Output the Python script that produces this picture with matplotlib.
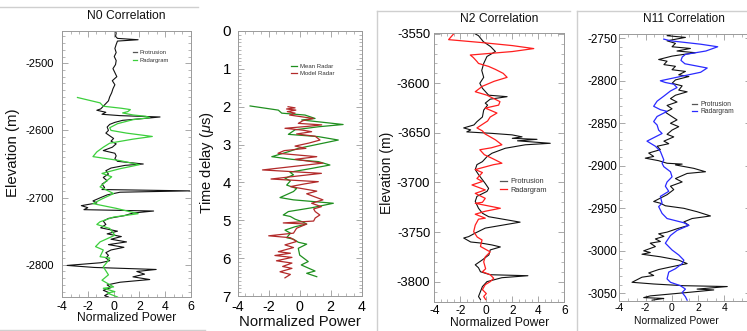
import matplotlib.pyplot as plt
from matplotlib.ticker import MultipleLocator
from matplotlib.lines import Line2D

plt.rcParams['font.family'] = ['Liberation Sans', 'DejaVu Sans']
plt.rcParams['mathtext.fontset'] = 'custom'
plt.rcParams['mathtext.rm'] = 'Liberation Sans'
plt.rcParams['mathtext.it'] = 'Liberation Sans:italic'
plt.rcParams['axes.unicode_minus'] = False

# ---- N0 correlation ----
n0_prot_elev = [-2451, -2455, -2460, -2463, -2465, -2467, -2472, -2478, -2484, -2490,
                -2496, -2502, -2508, -2514, -2520, -2526, -2532, -2538, -2544, -2550,
                -2556, -2560, -2564, -2568, -2570, -2573, -2576, -2578, -2580, -2582,
                -2585, -2588, -2591, -2595, -2600, -2604, -2608, -2612, -2616, -2620,
                -2625, -2630, -2634, -2638, -2642, -2646, -2650, -2652, -2656, -2660,
                -2665, -2670, -2675, -2680, -2685, -2688, -2690, -2692, -2696, -2700,
                -2705, -2708, -2712, -2715, -2718, -2720, -2723, -2727, -2731, -2735,
                -2740, -2745, -2750, -2754, -2758, -2762, -2766, -2770, -2774, -2778,
                -2782, -2786, -2790, -2794, -2797, -2801, -2804, -2807, -2810, -2814,
                -2818, -2822, -2826, -2830, -2834, -2838, -2842, -2846, -2848]
n0_prot = [0.1, 0.2, 0.15, 0.3, 1.9, 0.3, 0.2, 0.1, 0.2, 0.05,
           0.2, 0.15, -0.05, 0.1, 0.25, -0.1, 0.1, -0.05, -0.15, -0.3,
           -0.4, -0.6, -0.8, -1.0, -1.3, -0.6, -0.9, 0.5, 3.6, 2.5,
           0.7, 0.1, -0.3, -0.5, -0.4, -0.6, -0.3, 0.0, -0.2, 0.2,
           -0.1, -0.8, 0.1, 0.2, 0.1, 0.3, 2.3, 0.9, -0.2, -0.6,
           -0.4, -0.8, -0.5, -0.9, -0.7, -0.9, 5.9, 0.5, -0.5, -1.0,
           -1.6, -1.3, -2.5, -2.0, -2.3, 3.1, 1.5, 0.8, -0.4, -0.8,
           -0.6, -1.0, 0.3, -0.5, 0.6, -0.2, 1.0, -0.4, 0.8, -0.2,
           -0.6, -0.4, -0.6, -0.3, -1.0, -3.6, -1.5, 3.3, 1.8, 2.4,
           1.5, 2.8, 0.5, -0.5, -0.2, -0.8, -0.3, -0.7, -0.4]
n0_radar_elev = [-2551, -2559, -2564, -2567, -2569, -2572, -2574, -2577, -2579, -2581,
                 -2584, -2590, -2596, -2600, -2604, -2609, -2613, -2619, -2625, -2632,
                 -2639, -2645, -2651, -2657, -2664, -2669, -2676, -2684, -2694, -2702,
                 -2709, -2716, -2724, -2729, -2736, -2740, -2746, -2756, -2766, -2773,
                 -2778, -2788, -2790, -2796, -2803, -2815, -2823, -2833, -2835, -2840,
                 -2842, -2848]
n0_radar = [-2.8, -1.05, -0.8, 0.6, 1.3, 1.1, 0.7, 1.5, 2.5, 2.8,
            1.5, 0.3, -0.3, -0.2, 1.0, 3.0, 1.5, -0.3, -0.8, -1.3,
            -1.6, 0.5, 2.0, 0.5, -0.9, -0.15, -0.6, -1.05, 0.0, -0.9,
            -1.6, 0.2, 1.9, 0.0, -1.05, -1.3, -0.3, 0.1, -1.05, -1.4,
            -0.8, -1.05, -0.3, -0.5, -0.8, -0.4, -0.9, 0.0, -0.8, 0.1,
            -0.5, 0.3]

# ---- time delay panel ----
mean_t = [1.98, 2.09, 2.17, 2.22, 2.31, 2.35, 2.47, 2.53, 2.61, 2.73,
          2.79, 2.88, 2.99, 3.10, 3.19, 3.32, 3.39, 3.45, 3.54, 3.63,
          3.73, 3.80, 3.89, 3.96, 4.07, 4.16, 4.24, 4.40, 4.46, 4.55,
          4.67, 4.77, 4.86, 4.90, 4.97, 5.05, 5.10, 5.17, 5.26, 5.34,
          5.46, 5.50, 5.58, 5.63, 5.74, 5.92, 6.09, 6.18, 6.34, 6.40, 6.49]
mean_radar = [-3.2, -1.38, -1.16, 0.34, 0.99, 0.13, 2.8, 1.2, -0.3, -0.73,
              1.2, 2.49, 1.2, -0.09, -0.74, -1.8, -0.5, 1.2, 1.95, 0.77,
              -0.63, -0.4, -0.95, -0.6, -0.84, -0.2, -0.4, -1.27, -0.41, 2.17,
              0.77, -0.73, -1.06, -0.6, -0.3, 0.23, 0.45, -0.3, -0.95, -0.6,
              -0.84, -0.4, -0.09, 0.45, -0.09, 0.0, 0.55, 0.1, 0.99, 0.45, 1.1]
model_t = [2.00, 2.03, 2.06, 2.09, 2.13, 2.17, 2.22, 2.31, 2.37, 2.44,
           2.48, 2.52, 2.57, 2.62, 2.66, 2.72, 2.78, 2.88, 2.96, 3.04,
           3.10, 3.16, 3.23, 3.32, 3.39, 3.49, 3.67, 3.76, 3.91, 3.98,
           4.04, 4.11, 4.23, 4.30, 4.37, 4.46, 4.55, 4.64, 4.70, 4.77,
           4.86, 4.94, 5.02, 5.07, 5.10, 5.21, 5.34, 5.41, 5.46, 5.56,
           5.65, 5.72, 5.83, 5.87, 5.93, 5.98, 6.07, 6.13, 6.22, 6.27,
           6.36, 6.43, 6.52]
model_radar = [-0.75, -0.3, -0.85, -0.25, -0.8, -0.3, -0.65, 0.88, 0.2, -0.09,
               1.42, 0.5, -0.95, 0.2, 0.77, -0.2, 1.0, 1.31, 0.6, -0.3,
               0.4, -1.0, -1.4, 1.1, -0.3, 1.5, -2.4, 1.4, -1.85, 1.2,
               0.3, -0.6, 1.1, 0.45, 0.9, 1.5, 0.77, 1.4, 0.9, 1.0,
               1.3, 1.0, 0.9, -1.06, 0.45, -0.2, -0.4, -2.0, -0.6, -0.2,
               -0.95, -0.4, -1.38, -0.6, -1.6, -0.5, -1.5, -0.5, -1.1, -0.5,
               -1.27, -0.6, -0.95]

# ---- N2 correlation ----
n2_prot_elev = [-3549.5, -3552, -3558, -3563, -3568, -3573, -3580, -3587, -3594, -3600,
                -3605, -3612, -3613.5, -3616, -3620, -3622, -3627, -3634, -3638.7, -3642,
                -3645, -3647, -3649, -3650.5, -3652, -3654, -3655.5, -3656.5, -3658, -3660.5,
                -3662, -3665.5, -3670.5, -3674, -3679, -3682, -3687, -3692, -3701, -3706,
                -3709, -3714, -3719, -3726, -3731, -3734.5, -3738, -3740, -3742, -3746,
                -3751, -3754.6, -3756, -3760, -3761, -3763, -3765, -3768, -3773, -3778,
                -3783, -3786, -3790, -3793, -3794, -3796, -3800, -3805, -3810, -3815,
                -3818]
n2_prot = [-0.95, -0.6, -0.23, 0.33, 0.7, 0.05, -0.2, -0.35, -0.2, -0.5,
           -0.3, 0.18, 1.6, 0.3, -0.08, 0.1, -0.2, -0.3, -0.72, -0.95,
           -1.74, -1.2, -1.5, 0.44, 1.98, 2.75, 2.0, 3.9, 2.4, 4.92,
           3.0, 1.46, 0.44, 0.05, -0.3, -0.72, -0.85, -0.6, -0.08, 0.18,
           0.05, -0.72, -0.85, -0.6, -0.3, 0.18, 1.72, 2.6, 1.7, -0.08,
           -0.85, -1.36, -1.74, -1.2, -0.45, 0.44, 1.08, 0.3, 0.2, -0.3,
           -0.85, -0.6, -0.45, 0.3, 3.2, 1.2, 0.05, -0.3, -0.45, -0.6,
           -0.45]
n2_radar_elev = [-3550, -3556, -3559, -3562, -3565, -3568, -3571.5, -3574, -3578, -3580,
                 -3583, -3586, -3590, -3594, -3598, -3603, -3608.5, -3612, -3618.5, -3622,
                 -3625, -3630, -3634, -3638, -3645, -3648, -3651, -3657, -3662, -3665,
                 -3667, -3672, -3676, -3680.6, -3682, -3687, -3690, -3696, -3699, -3702.5,
                 -3707.5, -3711, -3716, -3720, -3721, -3726, -3729, -3732, -3736, -3737,
                 -3743, -3749.6, -3755, -3758, -3764.5, -3770, -3775, -3780, -3787, -3790,
                 -3793, -3796.6, -3800, -3803, -3808, -3812, -3815, -3818]
n2_radar = [-2.5, -2.9, -0.3, 2.0, 3.65, 2.0, -1.23, -1.0, -0.72, -0.6,
            0.18, 0.7, 1.3, 1.6, 0.6, -0.3, -0.85, 0.05, 1.05, 0.95,
            -0.08, 0.82, 0.3, 0.1, -0.72, -0.3, -0.1, 0.7, 1.2, 0.4,
            -0.5, -0.15, 0.5, 1.2, 0.57, -0.85, -0.3, -0.72, -0.3, -1.1,
            -0.08, -0.85, -0.08, -0.3, -0.85, 1.08, -0.08, -0.85, -0.08, -0.6,
            -0.85, -0.97, -0.7, -0.33, -0.45, 0.3, -0.08, -0.2, -0.05, -0.3,
            0.3, 0.57, 0.3, -0.08, -0.3, 0.0, -0.2, -0.05]

# ---- N11 correlation ----
n11_prot_elev = [-2743, -2747, -2749, -2753, -2756, -2760, -2762, -2765, -2767, -2771,
                 -2775, -2777, -2781, -2783, -2787, -2789, -2793, -2795, -2799, -2803,
                 -2806, -2811, -2813, -2817, -2821, -2825, -2829, -2833, -2837, -2841,
                 -2846, -2850, -2854, -2858, -2863, -2866, -2871, -2874, -2877, -2881,
                 -2885, -2889, -2891, -2894, -2897, -2898, -2899, -2903, -2907, -2909,
                 -2915, -2919, -2924, -2928, -2934, -2938, -2942, -2944, -2947, -2950,
                 -2954, -2959, -2962, -2966, -2970, -2974, -2978, -2980, -2983, -2986,
                 -2989, -2991, -2995, -3000, -3002, -3004, -3007, -3011, -3015, -3019,
                 -3022, -3026, -3029, -3031, -3037, -3039, -3041, -3042, -3045, -3046,
                 -3049, -3053, -3055, -3056, -3058]
n11_prot = [0.53, -0.36, 1.04, -0.36, 0.28, 0.02, 1.42, 0.4, 1.8, 0.02,
            -1.0, -0.36, -0.6, 0.28, 0.02, 1.04, 0.53, 1.3, 0.28, 0.02,
            0.79, 0.53, 1.17, 0.28, -0.1, 0.4, -0.36, 0.02, -0.49, -0.1,
            0.4, -0.1, 0.53, 0.02, -0.36, 0.15, -0.6, -0.23, -1.12, -0.87,
            -1.76, -1.38, -2.02, -1.0, -0.36, 0.79, 0.28, 1.68, 2.57, 1.17,
            0.28, 0.79, -0.1, 0.15, -0.36, -0.87, -1.38, -0.87, -0.49, 0.92,
            1.93, 2.95, 1.55, 0.92, 1.3, 0.4, -0.36, -1.0, -0.6, -1.25,
            -0.87, -1.64, -1.25, -2.14, -1.64, -2.27, -0.87, 0.53, 1.17, -0.1,
            -1.0, -1.76, -1.38, -2.27, -3.03, -1.38, 0.92, 4.23, 1.93, 3.2,
            1.17, -1.64, -2.14, -0.61, -1.5]
n11_radar_elev = [-2751, -2753, -2757, -2760, -2765, -2769, -2772, -2776, -2780, -2785,
                  -2790, -2795, -2800, -2802, -2804, -2808, -2812, -2818, -2824, -2830,
                  -2834, -2836, -2842, -2848, -2852, -2858, -2862, -2867, -2871, -2877,
                  -2883, -2893, -2897, -2901, -2907, -2913, -2919, -2924, -2930, -2936,
                  -2944, -2948, -2956, -2962, -2967, -2970, -2976, -2982, -2991, -2999,
                  -3005, -3011, -3015, -3021, -3025, -3033, -3037, -3041, -3045, -3049,
                  -3054, -3058]
n11_radar = [-0.61, -0.1, 2.2, 3.5, 2.6, 1.04, 0.8, 0.7, 1.0, 2.7,
             2.2, 0.66, -0.87, -0.5, 0.15, 0.4, -0.1, -0.6, -1.12, -1.38,
             -0.87, -0.36, -1.12, -1.38, -1.12, -1.0, -0.74, -1.38, -1.89, -1.25,
             -0.87, -0.61, -0.74, -0.61, -0.1, 0.02, -0.36, -0.49, -0.23, -0.87,
             -0.74, -1.0, -0.74, -0.36, 0.92, 1.3, 0.4, -0.1, -0.49, 0.02,
             0.54, 0.92, 0.79, 0.28, -0.23, -0.36, -0.1, 0.66, 1.04, 0.79,
             1.04, 1.17]

W, H = 747, 331
fig = plt.figure(figsize=(W / 100, H / 100), dpi=100)
fig.patch.set_facecolor("white")


def rect(l, t, r, b):
    return [l / W, 1 - b / H, (r - l) / W, (b - t) / H]


def ftext(x, y, s, fs, rot=0):
    fig.text(x / W, 1 - y / H, s, fontsize=fs, rotation=rot, ha="center", va="center", color="#111111")


def style(ax, xmaj, xmin, ymaj, ymin, xfs, yfs, xpad, ypad):
    ax.xaxis.set_major_locator(MultipleLocator(xmaj))
    ax.xaxis.set_minor_locator(MultipleLocator(xmin))
    ax.yaxis.set_major_locator(MultipleLocator(ymaj))
    ax.yaxis.set_minor_locator(MultipleLocator(ymin))
    ax.tick_params(which="both", direction="in", top=True, right=True, color="#9a9a9a")
    ax.tick_params(which="major", length=4, width=0.6)
    ax.tick_params(which="minor", length=2.2, width=0.5)
    ax.tick_params(axis="x", labelsize=xfs, pad=xpad)
    ax.tick_params(axis="y", labelsize=yfs, pad=ypad)
    for s in ax.spines.values():
        s.set_color("#9a9a9a")
        s.set_linewidth(0.7)


def legend(ax, labels, colors, x, y, fs, spacing, hl):
    fpx = fs * 100 / 72
    handles = [Line2D([], [], color=c, lw=0.9) for c in colors]
    ax.legend(handles, labels, loc="upper left", bbox_to_anchor=(x / W, 1 - (y - 0.6 * fpx) / H),
              bbox_transform=fig.transFigure, frameon=False, fontsize=fs, handlelength=hl,
              handletextpad=0.5, borderpad=0, borderaxespad=0,
              labelspacing=max(spacing / fpx - 1.17, 0.0), labelcolor="#333333")


# panel 1: N0
ax1 = fig.add_axes(rect(62, 31, 191, 297))
ax1.plot(n0_prot, n0_prot_elev, color="#111111", lw=0.8)
ax1.plot(n0_radar, n0_radar_elev, color="#3ccf3c", lw=0.9)
ax1.set_xlim(-4, 6)
ax1.set_ylim(-2848, -2452)
style(ax1, 2, 2 / 3, 100, 10, 8.9, 8, 3.2, 6)
legend(ax1, ["Protrusion", "Radargram"], ["#555555", "#3ccf3c"], 133, 53.3, 4.2, 10, 0.7)
ftext(126, 16, "N0 Correlation", 8.7)
ftext(13.3, 153, "Elevation (m)", 10.8, 90)
ftext(127, 318, "Normalized Power", 8.7)

# panel 2: time delay
ax2 = fig.add_axes(rect(237.7, 31, 361.7, 296))
ax2.plot(mean_radar, mean_t, color="#1f8f1f", lw=0.9)
ax2.plot(model_radar, model_t, color="#b22a2a", lw=0.9)
ax2.set_xlim(-4, 4)
ax2.set_ylim(7, 0)
style(ax2, 2, 0.5, 1, 0.1, 10.3, 10.8, 3, 4.8)
legend(ax2, ["Mean Radar", "Model Radar"], ["#1f8f1f", "#b22a2a"], 291, 67.7, 4.3, 8.3, 1.0)
ftext(206.7, 162.5, r"Time delay ($\mu$s)", 10.6, 90)
ftext(300, 322, "Normalized Power", 10.7)

# panel 3: N2
ax3 = fig.add_axes(rect(434.3, 33, 564.3, 302))
ax3.plot(n2_prot, n2_prot_elev, color="#111111", lw=0.8)
ax3.plot(n2_radar, n2_radar_elev, color="#ff1e1e", lw=0.9)
ax3.set_xlim(-4, 6)
ax3.set_ylim(-3820.5, -3549.3)
style(ax3, 2, 0.5, 50, 10, 8.6, 9.4, 2.5, 3)
legend(ax3, ["Protrusion", "Radargram"], ["#555555", "#ff1e1e"], 500, 182.7, 5.3, 9.6, 0.9)
ftext(499.3, 19, "N2 Correlation", 8.7)
ftext(386.7, 172.5, "Elevation (m)", 10, 90)
ftext(500, 322.7, "Normalized Power", 8.7)

# panel 4: N11 (its right edge runs off the picture, as in the source)
ax4 = fig.add_axes(rect(619.3, 34, 750.5, 301))
ax4.plot(n11_prot, n11_prot_elev, color="#111111", lw=0.8)
ax4.plot(n11_radar, n11_radar_elev, color="#2a2aff", lw=0.9)
ax4.set_xlim(-4, 6)
ax4.set_ylim(-3059, -2745)
style(ax4, 2, 2 / 3, 50, 10, 7.5, 8.4, 1.5, 1.5)
legend(ax4, ["Protrusion", "Radargram"], ["#555555", "#2a2aff"], 692, 105, 4.9, 8.3, 0.8)
ftext(684, 19, "N11 Correlation", 8.5)
ftext(676.7, 320.7, "Normalized Power", 7.5)

# panel frames of the composite
frame = [((0, 198), (7.3, 7.3)), ((0, 205), (330, 330)),
         ((377, 377), (11, 331)), ((377, 570), (11, 11)),
         ((577, 577), (11, 331)), ((577, 747), (11, 11))]
for xs, ys in frame:
    fig.add_artist(Line2D([x / W for x in xs], [1 - y / H for y in ys],
                          transform=fig.transFigure, color="#cfcfcf", lw=1.0))

fig.savefig("out.png", dpi=100, facecolor="white")
